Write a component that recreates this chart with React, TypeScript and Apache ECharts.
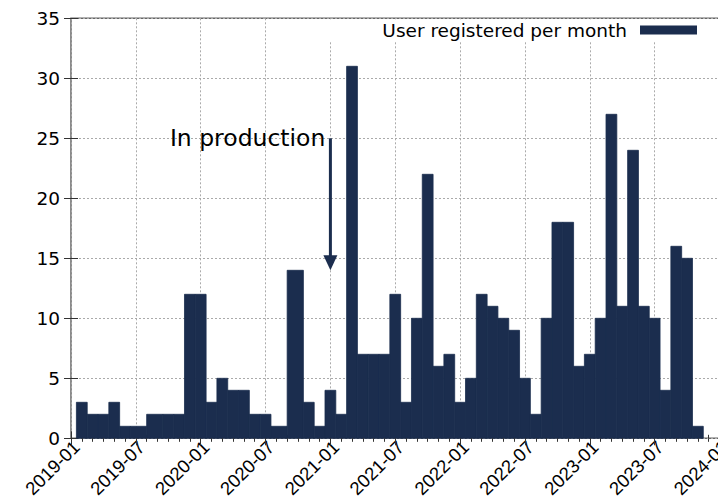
import React, { useEffect, useRef } from 'react';
import * as echarts from 'echarts';

// Monthly registrations (months with no registrations are absent, as in the source plot)
const months = [
  '2019-02', '2019-03', '2019-04', '2019-05', '2019-06', '2019-07',
  '2019-09', '2019-10', '2019-11', '2019-12',
  '2020-01', '2020-02', '2020-03', '2020-04', '2020-05', '2020-06', '2020-07', '2020-08',
  '2020-10', '2020-11', '2020-12',
  '2021-01', '2021-02', '2021-03', '2021-04', '2021-05', '2021-06', '2021-07', '2021-08',
  '2021-09', '2021-10', '2021-11', '2021-12',
  '2022-01', '2022-02', '2022-03', '2022-04', '2022-05', '2022-06', '2022-07', '2022-08',
  '2022-09', '2022-10', '2022-11', '2022-12',
  '2023-01', '2023-02', '2023-03', '2023-04', '2023-05', '2023-06', '2023-07', '2023-08',
  '2023-09', '2023-10', '2023-11',
];
const values = [
  3, 2, 2, 3, 1, 1,
  2, 2, 2, 12,
  12, 3, 5, 4, 4, 2, 2, 1,
  14, 3, 1,
  4, 2, 31, 7, 7, 7, 12, 3,
  10, 22, 6, 7,
  3, 5, 12, 11, 10, 9, 5, 2,
  10, 18, 18, 6,
  7, 10, 27, 11, 24, 11, 10, 4,
  16, 15, 1,
];
const seriesName = 'User registered per month';
const xStart = '2019-01';
const xEnd = '2024-01';
const xTickStepMonths = 6;
const yMax = 35;
const yStep = 5;
const annotationText = 'In production';
const annotationMonth = '2021-01';
const annotationFrom = 25;
const annotationTo = 14;

const BAR = '#1b2d4e';
const FONT = 'DejaVu Sans';
const XFONT = 'Liberation Sans';

function monthIndex(s: string): number {
  const [y, m] = s.split('-').map(Number);
  const [y0, m0] = xStart.split('-').map(Number);
  return (y - y0) * 12 + (m - m0);
}
function indexToMonth(i: number): string {
  const [y0, m0] = xStart.split('-').map(Number);
  const total = y0 * 12 + (m0 - 1) + Math.round(i);
  const y = Math.floor(total / 12);
  const m = (total % 12) + 1;
  return `${y}-${m < 10 ? '0' + m : m}`;
}

export default function App() {
  const ref = useRef<HTMLDivElement>(null);
  useEffect(() => {
    if (!ref.current) return;
    const chart = echarts.init(ref.current, undefined, { renderer: 'svg' });
    const xs = months.map(monthIndex);
    // gnuplot-style boxes: each box extends halfway to its neighbours
    const boxes = xs.map((x, i) => {
      const prev = i > 0 ? xs[i - 1] : x - (xs[1] - xs[0]);
      const next = i < xs.length - 1 ? xs[i + 1] : x + (x - xs[i - 1]);
      return [x, values[i], (prev + x) / 2, (x + next) / 2];
    });
    const xMax = monthIndex(xEnd);
    const axisLabelStyle = { fontFamily: FONT, fontSize: 18.5, color: '#000' };
    chart.setOption({
      animation: false,
      grid: {
        left: 71, width: 648.5, top: 18.3, height: 420,
        containLabel: false, outerBoundsMode: 'none',
        show: true, borderColor: '#666', borderWidth: 1.5, backgroundColor: 'transparent',
      },
      legend: {
        data: [{ name: seriesName, icon: 'rect' }],
        right: 21, top: 20.5, padding: 0,
        align: 'right', itemWidth: 57, itemHeight: 9,
        textStyle: { fontFamily: FONT, fontSize: 18.5, color: '#000', padding: [0, 8, 6, 0] },
        selectedMode: false,
      },
      xAxis: [
        {
          type: 'value', min: 0, max: xMax, interval: xTickStepMonths, z: 0,
          axisLine: { show: false },
          axisTick: { show: true, inside: true, length: 7, lineStyle: { color: '#333' } },
          minorTick: { show: true, splitNumber: 6, length: 3.5, lineStyle: { color: '#333' } },
          splitLine: { show: true, lineStyle: { color: '#aaa', type: [2, 2], width: 1 } },
          axisLabel: {
            fontFamily: XFONT, fontSize: 18.5, color: '#000',
            rotate: 45, margin: 0,
            align: 'right', verticalAlign: 'top', lineHeight: 15.5,
            showMinLabel: true, showMaxLabel: true, hideOverlap: false,
            formatter: (v: number) => indexToMonth(v),
          },
        },
        {
          type: 'value', position: 'top', min: 0, max: xMax, interval: xTickStepMonths, z: 3,
          axisLine: { show: false },
          axisTick: { show: true, inside: true, length: 7, lineStyle: { color: '#333' } },
          minorTick: { show: true, splitNumber: 6, length: 3.5, lineStyle: { color: '#333' } },
          splitLine: { show: false }, axisLabel: { show: false },
        },
      ],
      yAxis: [
        {
          type: 'value', min: 0, max: yMax, interval: yStep, z: 0,
          axisLine: { show: false },
          axisTick: { show: true, inside: true, length: 7, lineStyle: { color: '#333' } },
          splitLine: { show: true, lineStyle: { color: '#aaa', type: [2, 2], width: 1 } },
          axisLabel: { ...axisLabelStyle, margin: 11, padding: [0, 0, 5, 0] },
        },
        {
          type: 'value', position: 'right', min: 0, max: yMax, interval: yStep, z: 3,
          axisLine: { show: false },
          axisTick: { show: true, inside: true, length: 7, lineStyle: { color: '#333' } },
          splitLine: { show: false }, axisLabel: { show: false },
        },
      ],
      graphic: [
        { type: 'rect', z: 1, silent: true, shape: { x: 300, y: 19.3, width: 420, height: 22 }, style: { fill: '#fff' } },
      ],
      series: [
        {
          type: 'custom', name: seriesName, xAxisIndex: 0, yAxisIndex: 0,
          itemStyle: { color: BAR },
          encode: { x: 0, y: 1 },
          data: boxes,
          renderItem: (params: any, api: any) => {
            const tl = api.coord([api.value(2), api.value(1)]);
            const br = api.coord([api.value(3), 0]);
            return {
              type: 'rect',
              shape: { x: tl[0], y: tl[1], width: br[0] - tl[0], height: br[1] - tl[1] },
              style: { fill: BAR, stroke: BAR, lineWidth: 0.8 },
            };
          },
        },
        {
          type: 'custom', name: 'annotation', xAxisIndex: 0, yAxisIndex: 0, z: 5,
          data: [[monthIndex(annotationMonth), annotationFrom, annotationTo]],
          encode: { x: 0, y: 1 },
          renderItem: (params: any, api: any) => {
            const from = api.coord([api.value(0), api.value(1)]);
            const to = api.coord([api.value(0), api.value(2)]);
            const headLen = 15;
            const headHalf = 7;
            return {
              type: 'group',
              children: [
                {
                  type: 'line',
                  shape: { x1: from[0], y1: from[1], x2: to[0], y2: to[1] - headLen + 1 },
                  style: { stroke: BAR, lineWidth: 3 },
                },
                {
                  type: 'polygon',
                  shape: { points: [[to[0] - headHalf, to[1] - headLen], [to[0] + headHalf, to[1] - headLen], [to[0], to[1]]] },
                  style: { fill: BAR },
                },
                {
                  type: 'text',
                  style: {
                    text: annotationText, x: from[0] - 5, y: from[1],
                    align: 'right', verticalAlign: 'middle',
                    fontFamily: FONT, fontSize: 23.5, fill: '#000',
                  },
                },
              ],
            };
          },
        },
      ],
    });
    return () => chart.dispose();
  }, []);
  return <div ref={ref} style={{ position: 'absolute', left: 0, top: 0, width: 718, height: 500 }} />;
}
